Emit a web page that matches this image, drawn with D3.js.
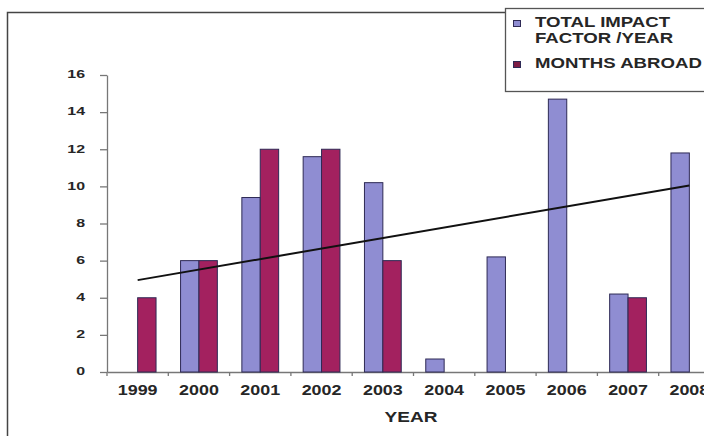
<!DOCTYPE html>
<html>
<head>
<meta charset="utf-8">
<script src="https://cdn.jsdelivr.net/npm/d3@7"></script>
<style>
    body { margin: 0; background: #fff; }
    text { font-family: "Liberation Sans", Arial, sans-serif; font-weight: bold; fill: #262626; }
</style>
</head>
<body>
<div id="chart"></div>
<script>
// chart data
var years = ["1999", "2000", "2001", "2002", "2003", "2004", "2005", "2006", "2007", "2008"];
var impactFactor = [0, 6.0, 9.4, 11.6, 10.2, 0.7, 6.2, 14.7, 4.2, 11.8];
var monthsAbroad = [4, 6, 12, 12, 6, 0, 0, 0, 4, 0];
var seriesKeys = ["impact", "months"];
var seriesLabels = [["TOTAL IMPACT", "FACTOR /YEAR"], ["MONTHS ABROAD"]];
var trendYears = ["1999", "2008"];
var trendValues = [4.95, 10.05];
var yTicks = [0, 2, 4, 6, 8, 10, 12, 14, 16];

var colors = { impact: "#8f8dd2", months: "#a3215f" };

var svgWidth = 704, svgHeight = 436;

var svg = d3.select("#chart")
            .append("svg")
            .attr("width", svgWidth)
            .attr("height", svgHeight);

// outer frame (runs off the right / bottom edge)
svg.append("rect")
   .attr("x", 7.5).attr("y", 12.5)
   .attr("width", 720).attr("height", 440)
   .attr("fill", "#fff")
   .attr("stroke", "#444")
   .attr("stroke-width", 1.5);

// scales
var x0 = d3.scaleBand()
           .domain(years)
           .range([107, 720])
           .paddingInner(0.4)
           .paddingOuter(0.2);

var x1 = d3.scaleBand()
           .domain(seriesKeys)
           .range([0, x0.bandwidth()]);

var y = d3.scaleLinear()
          .domain([0, 16])
          .range([372, 75]);

var data = years.map(function(yr, i) {
    return { year: yr, impact: impactFactor[i], months: monthsAbroad[i] };
});

// y axis
var yAxis = svg.append("g")
               .attr("transform", "translate(107,0)")
               .call(d3.axisLeft(y).tickValues(yTicks).tickSize(7).tickSizeOuter(0));
yAxis.select(".domain").attr("stroke", "#777").attr("stroke-width", 1.3);
yAxis.selectAll(".tick line").attr("stroke", "#777").attr("stroke-width", 1.3);
yAxis.selectAll(".tick text")
     .attr("font-size", "11px")
     .attr("x", -22 / 1.45)
     .attr("dy", "0.25em")
     .attr("transform", "scale(1.45,1)")
     .style("font-family", null)
     .attr("fill", "#262626");

// x axis
var xAxis = svg.append("g")
               .attr("transform", "translate(0,372)")
               .call(d3.axisBottom(x0).tickSize(0).tickSizeOuter(0));
xAxis.select(".domain").attr("stroke", "#777").attr("stroke-width", 1.3);
xAxis.selectAll(".tick text")
     .attr("font-size", "14px")
     .attr("y", 23)
     .attr("dy", 0)
     .attr("transform", "scale(1.28,1)")
     .attr("fill", "#262626");
// rescale label positions so the scaleX doesn't shift them
xAxis.selectAll(".tick text").attr("x", 0);

// small ticks between the categories
var half = x0.step() * x0.paddingInner() / 2;
xAxis.selectAll(".sep")
     .data(years)
     .enter()
     .append("line")
     .attr("class", "sep")
     .attr("x1", d => x0(d) - half)
     .attr("x2", d => x0(d) - half)
     .attr("y1", 0)
     .attr("y2", 4)
     .attr("stroke", "#777")
     .attr("stroke-width", 1.3);

// bars
var groups = svg.selectAll(".yearGroup")
                .data(data)
                .enter()
                .append("g")
                .attr("class", "yearGroup")
                .attr("transform", d => `translate(${x0(d.year)},0)`);

groups.selectAll("rect")
      .data(d => seriesKeys.map(k => ({ key: k, value: d[k] })).filter(e => e.value > 0))
      .enter()
      .append("rect")
      .attr("x", d => x1(d.key))
      .attr("y", d => y(d.value))
      .attr("width", x1.bandwidth())
      .attr("height", d => y(0) - y(d.value))
      .attr("fill", d => colors[d.key])
      .attr("stroke", "#2e2a55")
      .attr("stroke-width", 1);

// trend line
var centre = x0.bandwidth() / 2;
svg.append("line")
   .attr("x1", x0(trendYears[0]) + centre)
   .attr("y1", y(trendValues[0]))
   .attr("x2", x0(trendYears[1]) + centre)
   .attr("y2", y(trendValues[1]))
   .attr("stroke", "#111")
   .attr("stroke-width", 2);

// x axis title
svg.append("text")
   .attr("x", 411 / 1.36)
   .attr("y", 422)
   .attr("transform", "scale(1.36,1)")
   .attr("text-anchor", "middle")
   .attr("font-size", "14px")
   .text("YEAR");

// legend
var legend = svg.append("g");
legend.append("rect")
      .attr("x", 505.5).attr("y", 8.5)
      .attr("width", 230).attr("height", 83)
      .attr("fill", "#fff")
      .attr("stroke", "#555")
      .attr("stroke-width", 1.3);

var legendRows = [[27, 43], [68]];
seriesKeys.forEach(function(k, i) {
    legend.append("rect")
          .attr("x", 513.5)
          .attr("y", legendRows[i][0] - 6.5)
          .attr("width", 7).attr("height", 6)
          .attr("fill", k === "months" ? "#7d1d45" : colors[k])
          .attr("stroke", "#2e2a55")
          .attr("stroke-width", 1);
    seriesLabels[i].forEach(function(line, j) {
        legend.append("text")
              .attr("x", 535 / 1.33)
              .attr("y", legendRows[i][j])
              .attr("transform", "scale(1.33,1)")
              .attr("font-size", "14px")
              .text(line);
    });
});
</script>
</body>
</html>
